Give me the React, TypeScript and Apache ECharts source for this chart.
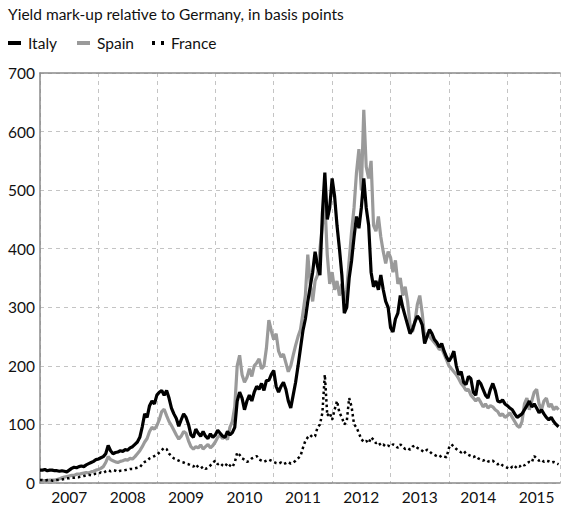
import React, { useEffect, useRef } from "react";
import * as echarts from "echarts";

const TITLE = "Yield mark-up relative to Germany, in basis points";
const SERIES_NAMES = ["Italy", "Spain", "France"];
const YEAR_LABELS = ["2007", "2008", "2009", "2010", "2011", "2012", "2013", "2014", "2015"];
const FIRST_YEAR = 2007;
const OBS_PER_YEAR = 24; // semi-monthly observations
const X_END = 2015.9;
const Y_TICKS = [0, 100, 200, 300, 400, 500, 600, 700];

const italy = [
  22, 22, 23, 21, 22, 22, 21, 21, 20, 21, 20, 19, 22, 25, 27, 26, 28, 29, 28, 31, 33, 35, 37, 40,
  41, 43, 45, 50, 64, 55, 50, 52, 53, 55, 54, 57, 56, 60, 62, 66, 70, 78, 96, 118, 112, 132, 140, 135,
  150, 155, 158, 150, 158, 145, 128, 118, 110, 97, 108, 118, 112, 100, 82, 78, 92, 85, 80, 88, 80, 76, 84, 78,
  82, 90, 85, 80, 78, 88, 82, 86, 95, 140, 155, 145, 125, 140, 150, 140, 155, 165, 160, 170, 158, 175, 175, 185,
  192, 165, 155, 165, 172, 160, 140, 128, 150, 172, 200, 230, 260, 280, 310, 335, 360, 395, 370, 355, 460, 530, 450, 470,
  520, 490, 440, 400, 355, 290, 300, 350, 380, 420, 455, 435, 470, 520, 470, 440, 360, 335, 345, 330, 355, 330, 310, 300,
  265, 258, 280, 290, 320, 300, 285, 270, 255, 262, 275, 285, 280, 270, 238, 250, 262, 255, 245, 240, 232, 238, 225, 215,
  208, 215, 225, 200, 185, 190, 172, 168, 182, 178, 155, 150, 175, 170, 160, 150, 145, 160, 170, 158, 140, 138, 142, 135,
  132, 128, 125, 118, 112, 115, 118, 125, 132, 140, 130, 135, 128, 120, 125, 118, 112, 108, 112, 105, 100, 96,
];

const spain = [
  4, 4, 4, 4, 5, 5, 5, 6, 7, 9, 10, 11, 12, 13, 13, 15, 15, 16, 17, 18, 17, 19, 20, 22,
  23, 25, 28, 35, 45, 40, 38, 36, 35, 37, 38, 40, 39, 42, 41, 45, 50, 55, 62, 70, 76, 88, 95, 92,
  98, 108, 122, 126, 115, 105, 98, 90, 82, 75, 80, 88, 85, 72, 62, 58, 62, 60, 65, 58, 62, 66, 60, 64,
  70, 78, 82, 76, 80, 74, 95, 105, 130, 200, 218, 185, 172, 180, 195, 182, 200, 205, 212, 195, 200, 230, 278, 260,
  245, 255, 225, 215, 220, 205, 190, 200, 218, 235, 250, 262, 290, 320, 390, 340, 310, 345, 355, 400, 440, 480, 390, 340,
  360, 330, 345, 320, 340, 310, 330, 380, 430, 470, 530, 570, 500, 637, 540, 520, 550, 440, 430, 455, 420, 395, 375, 395,
  385, 360, 380, 340, 350, 320, 335, 310, 270, 258, 275, 305, 320, 290, 250, 255, 250, 245, 240, 235, 228, 230, 220, 210,
  200, 195, 190, 185, 178, 170, 165, 158, 160, 150, 145, 140, 145, 138, 130, 135, 128, 132, 130, 125, 122, 115, 118, 112,
  115, 120, 112, 105, 98, 95, 105, 135, 145, 125, 140, 155, 160, 135, 125, 140, 145, 130, 135, 125, 130, 125,
];

const france = [
  5, 5, 4, 5, 5, 4, 4, 5, 5, 6, 7, 8, 8, 9, 9, 10, 10, 11, 12, 13, 14, 13, 15, 16,
  16, 18, 17, 20, 22, 20, 22, 21, 19, 21, 21, 22, 23, 24, 24, 25, 26, 27, 32, 36, 38, 42, 44, 46,
  48, 52, 56, 60, 58, 50, 46, 42, 40, 38, 36, 35, 33, 32, 30, 28, 32, 27, 25, 28, 24, 26, 30, 35,
  38, 32, 34, 30, 28, 34, 30, 27, 35, 52, 48, 42, 40, 36, 38, 42, 44, 46, 40, 38, 36, 38, 40, 38,
  36, 34, 33, 35, 32, 34, 36, 33, 35, 38, 42, 46, 60, 72, 78, 82, 78, 80, 95, 100, 120, 185, 115, 120,
  108, 125, 140, 120, 112, 100, 105, 145, 130, 100, 95, 85, 75, 70, 72, 68, 78, 74, 68, 70, 64, 66, 62, 64,
  62, 66, 64, 60, 66, 62, 58, 60, 57, 62, 64, 60, 58, 55, 53, 57, 54, 50, 48, 46, 44, 47, 45, 44,
  60, 66, 62, 58, 55, 52, 55, 50, 48, 46, 44, 46, 42, 40, 38, 40, 37, 36, 38, 34, 32, 34, 30, 28,
  26, 24, 28, 25, 30, 28, 32, 30, 34, 36, 35, 46, 42, 38, 40, 36, 38, 37, 35, 36, 34, 32,
];

const dates = italy.map((_, i) => FIRST_YEAR + i / OBS_PER_YEAR);
const pairs = (vals: number[]) => vals.map((v, i) => [dates[i], v]);

const FONT = "Lato, 'DejaVu Sans', sans-serif";
const LEGEND_LEFTS = [8, 77, 152];
const LEGEND_ICONS = ["rect", "rect", "path://M0,0h3v4h-3z M9,0h3v4h-3z"];

export default function App() {
  const ref = useRef<HTMLDivElement>(null);
  useEffect(() => {
    if (!ref.current) return;
    const chart = echarts.init(ref.current, null, { renderer: "svg" });
    const axisGray = "#8a8a8a";
    const gridGray = "#c4c4c4";
    chart.setOption({
      animation: false,
      backgroundColor: "#fff",
      textStyle: { fontFamily: FONT },
      title: {
        text: TITLE,
        left: 8,
        top: 6,
        padding: 0,
        textStyle: { fontSize: 15.5, fontWeight: "normal", color: "#111", fontFamily: FONT },
      },
      legend: SERIES_NAMES.map((name, k) => ({
        left: LEGEND_LEFTS[k],
        top: 35,
        padding: 0,
        itemWidth: k === 2 ? 12 : 13,
        itemHeight: 4,
        data: [{ name, icon: LEGEND_ICONS[k] }],
        itemStyle: { borderWidth: 0 },
        textStyle: { fontSize: 15.5, color: "#111", fontFamily: FONT, padding: [0, 0, 0, 2] },
      })),
      grid: { left: 40, right: 0, top: 73, bottom: 21, containLabel: false },
      xAxis: [
        {
          type: "value",
          min: FIRST_YEAR,
          max: X_END,
          interval: 1,
          axisLine: { show: true, lineStyle: { color: axisGray, width: 1.5 } },
          axisTick: { show: false },
          axisLabel: { show: false },
          splitLine: { show: true, lineStyle: { color: gridGray, type: [4, 4], width: 1 } },
        },
        {
          type: "value",
          min: 0,
          max: (X_END - FIRST_YEAR) * 2,
          interval: 1,
          position: "bottom",
          axisLine: { show: false },
          axisTick: { show: false },
          splitLine: { show: false },
          axisLabel: {
            show: true,
            fontSize: 15.5,
            color: "#111",
            fontFamily: FONT,
            margin: 6,
            formatter: (v: number) => {
              const k = Math.round(v);
              if (k % 2 === 1) {
                const idx = (k - 1) / 2;
                return YEAR_LABELS[idx] ?? "";
              }
              return "";
            },
          },
        },
        {
          type: "value",
          min: FIRST_YEAR,
          max: X_END,
          position: "top",
          axisLine: { show: true, lineStyle: { color: axisGray, width: 1.5 } },
          axisTick: { show: false },
          axisLabel: { show: false },
          splitLine: { show: false },
        },
      ],
      yAxis: {
        type: "value",
        min: Y_TICKS[0],
        max: Y_TICKS[Y_TICKS.length - 1],
        interval: 100,
        axisLine: { show: true, lineStyle: { color: axisGray, width: 1.5 } },
        axisTick: { show: false },
        axisLabel: { fontSize: 15.5, color: "#111", fontFamily: FONT, margin: 5 },
        splitLine: { show: true, lineStyle: { color: gridGray, type: [4, 4], width: 1 } },
      },
      series: [
        {
          name: "Spain",
          type: "line",
          xAxisIndex: 0,
          data: pairs(spain),
          symbol: "none",
          color: "#9a9a9a",
          lineStyle: { color: "#9a9a9a", width: 3.2 },
        },
        {
          name: "Italy",
          type: "line",
          xAxisIndex: 0,
          data: pairs(italy),
          symbol: "none",
          color: "#000",
          lineStyle: { color: "#000", width: 3.2 },
        },
        {
          name: "France",
          type: "line",
          xAxisIndex: 0,
          data: pairs(france),
          symbol: "none",
          color: "#000",
          lineStyle: { color: "#000", width: 2.5, type: [2.5, 3] },
        },
      ],
    });
    return () => chart.dispose();
  }, []);
  return <div ref={ref} style={{ width: 563, height: 505, position: "absolute", left: 0, top: 0 }} />;
}
